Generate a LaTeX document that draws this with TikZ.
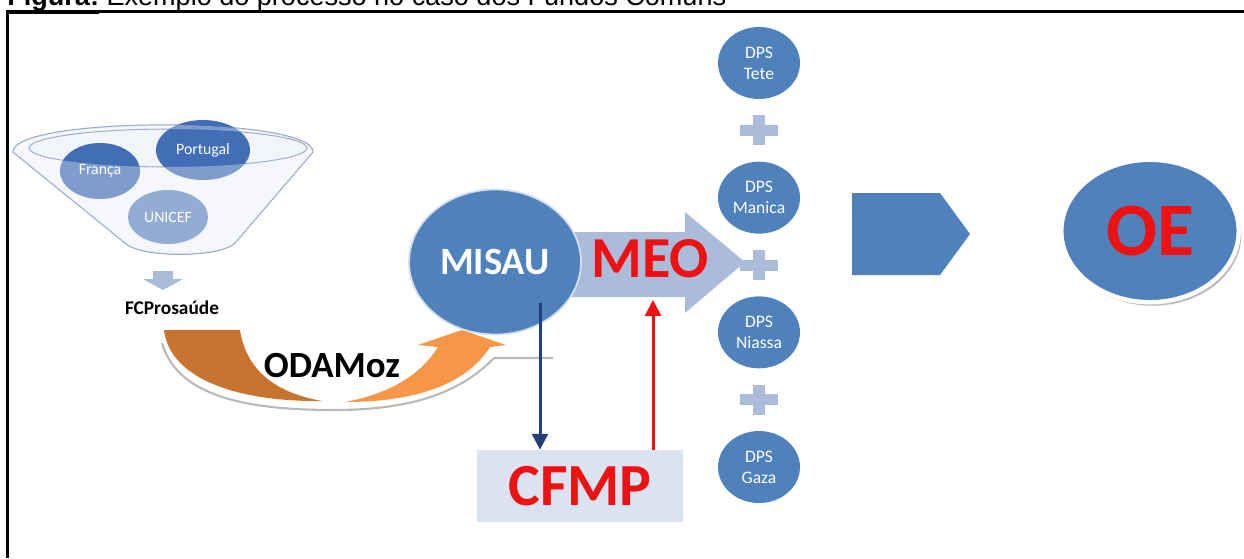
\documentclass[tikz,border=0pt]{standalone}
\usepackage{fontspec}
\setmainfont{Carlito}
\newfontfamily\captionfont{Liberation Sans}
\usepackage{tikz}
\usetikzlibrary{positioning, arrows.meta, shapes.geometric, calc, shadows}
\definecolor{misaublue}{HTML}{4F81BD}
\definecolor{donorblue}{HTML}{416EB4}
\definecolor{paleblue}{HTML}{AABCDA}
\definecolor{boxblue}{HTML}{DCE3F0}
\definecolor{arrownavy}{HTML}{243F78}
\definecolor{funnelline}{HTML}{8EA2C4}
\definecolor{funnelfill}{HTML}{F1F4FA}
\definecolor{odadark}{HTML}{C8732F}
\definecolor{odalight}{HTML}{F79646}
\definecolor{meored}{HTML}{EE1111}
\tikzset{
  >={Triangle[length=9pt,width=9pt]},
  donor/.style={ellipse, fill=donorblue, text=white, inner sep=0pt, font=\fontsize{9}{10}\selectfont},
  dps/.style={ellipse, fill=misaublue, text=white, minimum width=1.64cm, minimum height=1.44cm, inner sep=0pt, align=center, font=\fontsize{10}{12}\selectfont},
  bigred/.style={text=meored, font=\bfseries\fontsize{33}{33}\selectfont},
}

\begin{document}
\begin{tikzpicture}[x=0.02cm, y=-0.02cm, node distance=1.24cm]
  \useasboundingbox (0,0) rectangle (1244,558);
  \node[anchor=base west, inner sep=0pt, font=\captionfont\fontsize{15.4}{18}\selectfont] (caption) at (7,5) {\underline{\textbf{Figura:}} Exemplo do processo no caso dos Fundos Comuns};
  \draw[line width=1.4pt] (7.5,558) -- (7.5,11.3) -- (1244,11.3);

  % funnel
  \filldraw[funnelline, fill=funnelfill, line width=0.7pt] (13,152) -- (125,243) .. controls (140,258) and (220,258) .. (235,243) -- (313,152) .. controls (313,116) and (13,116) .. (13,152) -- cycle;
  \filldraw[funnelline, fill=white!85!paleblue, line width=0.6pt] (168,148) ellipse [x radius=139, y radius=19];
  \node[donor, minimum width=1.6cm, minimum height=1.12cm] (franca) at (100,171) {França};
  \node[donor, minimum width=1.88cm, minimum height=1.2cm] (portugal) at (203,150) {Portugal};
  \node[donor, minimum width=1.6cm, minimum height=1.08cm, fill=donorblue!85!white] (unicef) at (168,217) {UNICEF};
  \begin{scope}
    \clip (13,152) -- (125,243) .. controls (140,258) and (220,258) .. (235,243) -- (313,152) .. controls (313,116) and (13,116) .. (13,152) -- cycle;
    \fill[white, opacity=.33, even odd rule] (0,100) rectangle (330,260) (168,148) ellipse [x radius=139, y radius=19];
  \end{scope}
  \fill[paleblue] (153,271) rectangle (173,279) (143,279) -- (183,279) -- (163,290) -- cycle;
  \node[font=\bfseries\fontsize{11}{12}\selectfont] (fcp) at (172,308) {FCProsaúde};

  % ODAMoz
  \draw[gray!55, line width=1.2pt] (162,343) .. controls (178,398) and (250,410) .. (335,410) .. controls (420,410) and (465,388) .. (494,358) -- (553,358);
  \fill[odadark] (164,330) -- (240,330) .. controls (246,368) and (272,392) .. (322,401) .. controls (240,402) and (170,380) .. (164,330) -- cycle;
  \fill[odalight] (345,402) .. controls (420,402) and (468,382) .. (490,347) -- (506,345) -- (462,330) -- (418,345) -- (438,347) .. controls (420,376) and (388,394) .. (345,402) -- cycle;
  \node[font=\bfseries\fontsize{21}{21}\selectfont] (odamoz) at (332,366) {ODAMoz};

  % MISAU, MEO
  \fill[paleblue] (560,232) -- (685,232) -- (685,212) -- (745,262) -- (685,313) -- (685,297) -- (560,297) -- cycle;
  \node[ellipse, fill=misaublue, draw=white!75!misaublue, line width=1pt, minimum width=3.4cm, minimum height=2.9cm, text=white, font=\bfseries\fontsize{22}{22}\selectfont] (misau) at (495,262) {MISAU};
  \node[bigred] (meo) at (650,259) {MEO};
  \coordinate (meobase) at (653,300);

  \node[fill=boxblue, minimum width=4.12cm, minimum height=1.44cm, text=meored, font=\bfseries\fontsize{34}{34}\selectfont] (cfmp) at (580,486) {CFMP};
  \coordinate (navytop) at ($(misau.center)+(45,41)$);
  \draw[->, arrownavy, line width=1.7pt] (navytop) -- (navytop |- cfmp.north);
  \draw[->, meored, line width=1.7pt] (cfmp.north -| meobase) -- (meobase);

  % DPS
  \node[dps] (tete) at (759,63) {DPS\\Tete};
  \node[dps, below=of tete] (manica) {DPS\\Manica};
  \node[dps, below=of manica] (niassa) {DPS\\Niassa};
  \node[dps, below=of niassa] (gaza) {DPS\\Gaza};
  \foreach \a/\b in {tete/manica, manica/niassa, niassa/gaza} {
    \fill[paleblue] ($(\a)!0.5!(\b)+(-19,-5.5)$) rectangle ++(38,11);
    \fill[paleblue] ($(\a)!0.5!(\b)+(-6,-15)$) rectangle ++(12,30);
  }

  % OE
  \fill[misaublue] (852,193) -- (940,193) -- (970,234) -- (940,275) -- (852,275) -- cycle;
  \node[ellipse, fill=misaublue, draw=white, line width=2.5pt, minimum width=3.55cm, minimum height=2.85cm, drop shadow={shadow xshift=1.5pt, shadow yshift=-2pt, fill=black!45, opacity=.6}, text=meored, font=\bfseries\fontsize{43}{43}\selectfont] (oe) at (1150,231) {OE};
\end{tikzpicture}
\end{document}
